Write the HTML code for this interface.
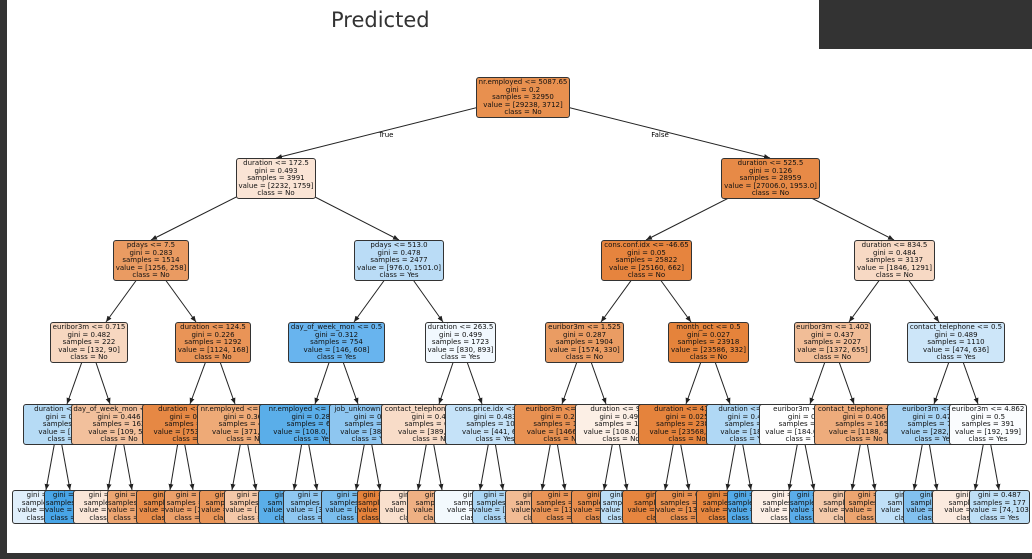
<!DOCTYPE html>
<html><head><meta charset="utf-8"><style>
body{margin:0;width:1032px;height:559px;overflow:hidden;background:#fff;position:relative;font-family:"DejaVu Sans","Liberation Sans",sans-serif}
.n{position:absolute;border:1px solid #333;border-radius:3px;font:7px/7.5px "DejaVu Sans",sans-serif;text-align:center;overflow:hidden;white-space:nowrap;color:#111;box-sizing:border-box;padding-top:1px;height:41px}
.l{height:34px}
svg{position:absolute;left:0;top:0}
</style></head><body>
<div style="position:absolute;left:0;top:0;width:7px;height:559px;background:#333"></div>
<div style="position:absolute;left:0;top:553px;width:1032px;height:6px;background:#333"></div>
<div style="position:absolute;left:819px;top:0;width:213px;height:49px;background:#333"></div>
<div style="position:absolute;left:331px;top:8px;font:21px 'DejaVu Sans',sans-serif;color:#333">Predicted</div>
<svg width="1032" height="559">
<defs><marker id="a" markerWidth="7" markerHeight="7" refX="6" refY="3.5" orient="auto" markerUnits="userSpaceOnUse"><path d="M0,1 L6,3.5 L0,6z" fill="#222"/></marker></defs>
<g stroke="#222" stroke-width="1" marker-end="url(#a)">
<line x1="523" y1="96" x2="276" y2="158"/><line x1="523" y1="96" x2="770" y2="158"/>
<line x1="276" y1="177" x2="151" y2="240"/><line x1="276" y1="177" x2="399" y2="240"/>
<line x1="770" y1="177" x2="646" y2="240"/><line x1="770" y1="177" x2="894" y2="240"/>
<line x1="151" y1="260" x2="106" y2="322"/><line x1="151" y1="260" x2="196" y2="322"/>
<line x1="399" y1="260" x2="354" y2="322"/><line x1="399" y1="260" x2="443" y2="322"/>
<line x1="646" y1="260" x2="601" y2="322"/><line x1="646" y1="260" x2="691" y2="322"/>
<line x1="894" y1="260" x2="849" y2="322"/><line x1="894" y1="260" x2="939" y2="322"/>
<line x1="89" y1="342" x2="67" y2="404"/><line x1="89" y1="342" x2="110" y2="404"/>
<line x1="213" y1="342" x2="190" y2="404"/><line x1="213" y1="342" x2="235" y2="404"/>
<line x1="336" y1="342" x2="315" y2="404"/><line x1="336" y1="342" x2="358" y2="404"/>
<line x1="460" y1="342" x2="439" y2="404"/><line x1="460" y1="342" x2="482" y2="404"/>
<line x1="584" y1="342" x2="562" y2="404"/><line x1="584" y1="342" x2="606" y2="404"/>
<line x1="708" y1="342" x2="686" y2="404"/><line x1="708" y1="342" x2="730" y2="404"/>
<line x1="832" y1="342" x2="810" y2="404"/><line x1="832" y1="342" x2="854" y2="404"/>
<line x1="956" y1="342" x2="934" y2="404"/><line x1="956" y1="342" x2="978" y2="404"/>
<line x1="58" y1="424" x2="46" y2="490"/><line x1="58" y1="424" x2="70" y2="490"/>
<line x1="120" y1="424" x2="108" y2="490"/><line x1="120" y1="424" x2="132" y2="490"/>
<line x1="181" y1="424" x2="170" y2="490"/><line x1="181" y1="424" x2="193" y2="490"/>
<line x1="244" y1="424" x2="232" y2="490"/><line x1="244" y1="424" x2="256" y2="490"/>
<line x1="305" y1="424" x2="294" y2="490"/><line x1="305" y1="424" x2="317" y2="490"/>
<line x1="368" y1="424" x2="356" y2="490"/><line x1="368" y1="424" x2="380" y2="490"/>
<line x1="430" y1="424" x2="418" y2="490"/><line x1="430" y1="424" x2="442" y2="490"/>
<line x1="492" y1="424" x2="480" y2="490"/><line x1="492" y1="424" x2="503" y2="490"/>
<line x1="554" y1="424" x2="542" y2="490"/><line x1="554" y1="424" x2="565" y2="490"/>
<line x1="616" y1="424" x2="604" y2="490"/><line x1="616" y1="424" x2="627" y2="490"/>
<line x1="677" y1="424" x2="665" y2="490"/><line x1="677" y1="424" x2="689" y2="490"/>
<line x1="739" y1="424" x2="727" y2="490"/><line x1="739" y1="424" x2="751" y2="490"/>
<line x1="801" y1="424" x2="789" y2="490"/><line x1="801" y1="424" x2="814" y2="490"/>
<line x1="864" y1="424" x2="852" y2="490"/><line x1="864" y1="424" x2="875" y2="490"/>
<line x1="926" y1="424" x2="914" y2="490"/><line x1="926" y1="424" x2="937" y2="490"/>
<line x1="987" y1="424" x2="975" y2="490"/><line x1="987" y1="424" x2="999" y2="490"/>
</g>
<text x="386" y="137" font-size="7" text-anchor="middle" font-family="DejaVu Sans">True</text>
<text x="660" y="137" font-size="7" text-anchor="middle" font-family="DejaVu Sans">False</text>
</svg>

<div class="n" style="left:476px;top:77px;width:94px;background:#e8904f">nr.employed &lt;= 5087.65<br>gini = 0.2<br>samples = 32950<br>value = [29238, 3712]<br>class = No</div>
<div class="n" style="left:236px;top:158px;width:80px;background:#fae4d5">duration &lt;= 172.5<br>gini = 0.493<br>samples = 3991<br>value = [2232, 1759]<br>class = No</div>
<div class="n" style="left:721px;top:158px;width:99px;background:#e78a47">duration &lt;= 525.5<br>gini = 0.126<br>samples = 28959<br>value = [27006.0, 1953.0]<br>class = No</div>

<div class="n" style="left:113px;top:240px;width:76px;background:#ea9b62">pdays &lt;= 7.5<br>gini = 0.283<br>samples = 1514<br>value = [1256, 258]<br>class = No</div>
<div class="n" style="left:354px;top:240px;width:90px;background:#badcf6">pdays &lt;= 513.0<br>gini = 0.478<br>samples = 2477<br>value = [976.0, 1501.0]<br>class = Yes</div>
<div class="n" style="left:601px;top:240px;width:91px;background:#e6843e">cons.conf.idx &lt;= -46.65<br>gini = 0.05<br>samples = 25822<br>value = [25160, 662]<br>class = No</div>
<div class="n" style="left:854px;top:240px;width:81px;background:#f7d9c4">duration &lt;= 834.5<br>gini = 0.484<br>samples = 3137<br>value = [1846, 1291]<br>class = No</div>

<div class="n" style="left:50px;top:322px;width:78px;background:#f7d7c0">euribor3m &lt;= 0.715<br>gini = 0.482<br>samples = 222<br>value = [132, 90]<br>class = No</div>
<div class="n" style="left:175px;top:322px;width:76px;background:#e99457">duration &lt;= 124.5<br>gini = 0.226<br>samples = 1292<br>value = [1124, 168]<br>class = No</div>
<div class="n" style="left:288px;top:322px;width:97px;background:#68b4ee">day_of_week_mon &lt;= 0.5<br>gini = 0.312<br>samples = 754<br>value = [146, 608]<br>class = Yes</div>
<div class="n" style="left:425px;top:322px;width:71px;background:#f1f8fe">duration &lt;= 263.5<br>gini = 0.499<br>samples = 1723<br>value = [830, 893]<br>class = Yes</div>
<div class="n" style="left:545px;top:322px;width:79px;background:#ea9c63">euribor3m &lt;= 1.525<br>gini = 0.287<br>samples = 1904<br>value = [1574, 330]<br>class = No</div>
<div class="n" style="left:668px;top:322px;width:81px;background:#e5833b">month_oct &lt;= 0.5<br>gini = 0.027<br>samples = 23918<br>value = [23586, 332]<br>class = No</div>
<div class="n" style="left:794px;top:322px;width:77px;background:#f1bd97">euribor3m &lt;= 1.402<br>gini = 0.437<br>samples = 2027<br>value = [1372, 655]<br>class = No</div>
<div class="n" style="left:907px;top:322px;width:98px;background:#cde6f9">contact_telephone &lt;= 0.5<br>gini = 0.489<br>samples = 1110<br>value = [474, 636]<br>class = Yes</div>

<div class="n" style="left:23px;top:404px;width:88px;background:#b6dbf5">duration &lt;= 235.5<br>gini = 0.476<br>samples = 59<br>value = [23, 36]<br>class = Yes</div>
<div class="n" style="left:71px;top:404px;width:96px;background:#f2c09c">day_of_week_mon &lt;= 0.5<br>gini = 0.446<br>samples = 163<br>value = [109, 54]<br>class = No</div>
<div class="n" style="left:142px;top:404px;width:98px;background:#e68844">duration &lt;= 101.5<br>gini = 0.115<br>samples = 802<br>value = [753.0, 49.0]<br>class = No</div>
<div class="n" style="left:197px;top:404px;width:96px;background:#eeaa77">nr.employed &lt;= 5087.65<br>gini = 0.368<br>samples = 490<br>value = [371, 119]<br>class = No</div>
<div class="n" style="left:259px;top:404px;width:108px;background:#5aaee9">nr.employed &lt;= 5087.65<br>gini = 0.288<br>samples = 614<br>value = [108.0, 506.0]<br>class = Yes</div>
<div class="n" style="left:329px;top:404px;width:84px;background:#8ec6f0">job_unknown &lt;= 0.5<br>gini = 0.4<br>samples = 140<br>value = [38, 102]<br>class = Yes</div>
<div class="n" style="left:381px;top:404px;width:100px;background:#f8dcc8">contact_telephone &lt;= 0.5<br>gini = 0.47<br>samples = 626<br>value = [389, 237]<br>class = No</div>
<div class="n" style="left:445px;top:404px;width:100px;background:#c5e2f8">cons.price.idx &lt;= 93.5<br>gini = 0.483<br>samples = 1097<br>value = [441, 656]<br>class = Yes</div>
<div class="n" style="left:514px;top:404px;width:96px;background:#e89152">euribor3m &lt;= 1.239<br>gini = 0.242<br>samples = 1705<br>value = [1466, 239]<br>class = No</div>
<div class="n" style="left:575px;top:404px;width:92px;background:#fcefe5">duration &lt;= 94.5<br>gini = 0.496<br>samples = 199<br>value = [108.0, 91.0]<br>class = No</div>
<div class="n" style="left:638px;top:404px;width:98px;background:#e5833c">duration &lt;= 413.5<br>gini = 0.025<br>samples = 23876<br>value = [23568, 308]<br>class = No</div>
<div class="n" style="left:706px;top:404px;width:86px;background:#b0d8f5">duration &lt;= 87.5<br>gini = 0.469<br>samples = 42<br>value = [18, 24]<br>class = Yes</div>
<div class="n" style="left:759px;top:404px;width:92px;background:#fefefe">euribor3m &lt;= 0.7<br>gini = 0.5<br>samples = 369<br>value = [184.0, 185.0]<br>class = Yes</div>
<div class="n" style="left:814px;top:404px;width:100px;background:#eeac7c">contact_telephone &lt;= 0.5<br>gini = 0.406<br>samples = 1658<br>value = [1188, 470]<br>class = No</div>
<div class="n" style="left:887px;top:404px;width:94px;background:#a7d3f3">euribor3m &lt;= 4.1<br>gini = 0.477<br>samples = 719<br>value = [282, 437]<br>class = Yes</div>
<div class="n" style="left:949px;top:404px;width:78px;background:#fafcfe">euribor3m &lt;= 4.862<br>gini = 0.5<br>samples = 391<br>value = [192, 199]<br>class = Yes</div>

<div class="n l" style="left:12px;top:490px;width:68px;background:#e0effb">gini = 0.49<br>samples = 42<br>value = [18, 24]<br>class = Yes</div>
<div class="n l" style="left:44px;top:490px;width:52px;background:#48a5e7">gini = 0.2<br>samples = 17<br>value = [5, 12]<br>class = Yes</div>
<div class="n l" style="left:73px;top:490px;width:70px;background:#fae6d8">gini = 0.49<br>samples = 97<br>value = [55, 42]<br>class = No</div>
<div class="n l" style="left:107px;top:490px;width:50px;background:#eda672">gini = 0.3<br>samples = 66<br>value = [54, 12]<br>class = No</div>
<div class="n l" style="left:136px;top:490px;width:68px;background:#e78c4a">gini = 0.1<br>samples = 611<br>value = [583, 28]<br>class = No</div>
<div class="n l" style="left:164px;top:490px;width:58px;background:#eca06a">gini = 0.2<br>samples = 191<br>value = [170, 21]<br>class = No</div>
<div class="n l" style="left:199px;top:490px;width:66px;background:#e99558">gini = 0.2<br>samples = 301<br>value = [262, 39]<br>class = No</div>
<div class="n l" style="left:224px;top:490px;width:64px;background:#f4c8a8">gini = 0.45<br>samples = 189<br>value = [109, 80]<br>class = No</div>
<div class="n l" style="left:258px;top:490px;width:72px;background:#5aaee9">gini = 0.28<br>samples = 421<br>value = [70, 351]<br>class = Yes</div>
<div class="n l" style="left:283px;top:490px;width:68px;background:#8fc7f0">gini = 0.38<br>samples = 193<br>value = [38, 155]<br>class = Yes</div>
<div class="n l" style="left:321px;top:490px;width:70px;background:#7bbeee">gini = 0.35<br>samples = 131<br>value = [30, 101]<br>class = Yes</div>
<div class="n l" style="left:357px;top:490px;width:46px;background:#e5823b">gini = 0.0<br>samples = 9<br>value = [8, 1]<br>class = No</div>
<div class="n l" style="left:379px;top:490px;width:78px;background:#f9e0cd">gini = 0.49<br>samples = 505<br>value = [290, 215]<br>class = No</div>
<div class="n l" style="left:407px;top:490px;width:70px;background:#efb083">gini = 0.4<br>samples = 121<br>value = [99, 22]<br>class = No</div>
<div class="n l" style="left:434px;top:490px;width:92px;background:#f3f9fd">gini = 0.5<br>samples = 598<br>value = [290, 308]<br>class = Yes</div>
<div class="n l" style="left:472px;top:490px;width:62px;background:#acd6f4">gini = 0.42<br>samples = 499<br>value = [151, 348]<br>class = Yes</div>
<div class="n l" style="left:505px;top:490px;width:74px;background:#f1bb94">gini = 0.44<br>samples = 212<br>value = [144, 68]<br>class = No</div>
<div class="n l" style="left:531px;top:490px;width:68px;background:#e99457">gini = 0.2<br>samples = 1493<br>value = [1322, 171]<br>class = No</div>
<div class="n l" style="left:571px;top:490px;width:66px;background:#e88e4e">gini = 0.2<br>samples = 112<br>value = [100, 12]<br>class = No</div>
<div class="n l" style="left:600px;top:490px;width:54px;background:#bcdef6">gini = 0.4<br>samples = 87<br>value = [8, 79]<br>class = Yes</div>
<div class="n l" style="left:622px;top:490px;width:86px;background:#e6853f">gini = 0.02<br>samples = 22417<br>value = [22200, 217]<br>class = No</div>
<div class="n l" style="left:655px;top:490px;width:68px;background:#e89050">gini = 0.1<br>samples = 1459<br>value = [1368, 91]<br>class = No</div>
<div class="n l" style="left:696px;top:490px;width:62px;background:#e6863f">gini = 0.05<br>samples = 30<br>value = [29, 1]<br>class = No</div>
<div class="n l" style="left:727px;top:490px;width:48px;background:#53aae8">gini = 0.2<br>samples = 12<br>value = [1, 11]<br>class = Yes</div>
<div class="n l" style="left:751px;top:490px;width:76px;background:#fcefe6">gini = 0.5<br>samples = 147<br>value = [77, 70]<br>class = No</div>
<div class="n l" style="left:789px;top:490px;width:50px;background:#5aade9">gini = 0.3<br>samples = 22<br>value = [4, 18]<br>class = Yes</div>
<div class="n l" style="left:813px;top:490px;width:78px;background:#f4c9aa">gini = 0.45<br>samples = 1121<br>value = [740, 381]<br>class = No</div>
<div class="n l" style="left:844px;top:490px;width:62px;background:#eda570">gini = 0.3<br>samples = 537<br>value = [448, 89]<br>class = No</div>
<div class="n l" style="left:875px;top:490px;width:78px;background:#c0e0f7">gini = 0.47<br>samples = 388<br>value = [146, 242]<br>class = Yes</div>
<div class="n l" style="left:903px;top:490px;width:68px;background:#82c1ef">gini = 0.4<br>samples = 331<br>value = [76, 255]<br>class = Yes</div>
<div class="n l" style="left:932px;top:490px;width:86px;background:#fbeadf">gini = 0.49<br>samples = 214<br>value = [118, 96]<br>class = No</div>
<div class="n l" style="left:969px;top:490px;width:61px;background:#bedff6">gini = 0.487<br>samples = 177<br>value = [74, 103]<br>class = Yes</div>
</body></html>
